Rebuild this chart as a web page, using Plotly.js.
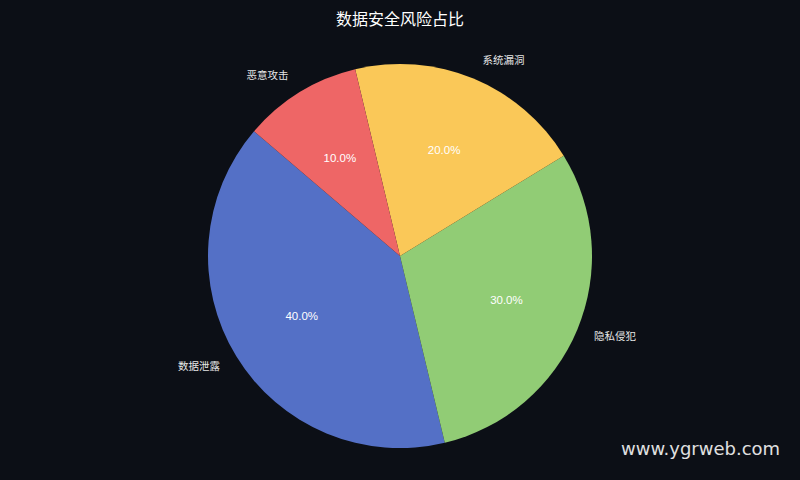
<!DOCTYPE html>
<html>
<head>
<meta charset="utf-8">
<script src="https://cdn.plot.ly/plotly-3.0.1.min.js"></script>
<style>
  html, body { margin: 0; padding: 0; background: #0c0f16; }
  #myDiv { width: 800px; height: 480px; }
</style>
</head>
<body>
<div id="myDiv"></div>
<script>
// Risk categories and their share (%)
var riskLabels = ['数据泄露', '隐私侵犯', '系统漏洞', '恶意攻击'];
var riskValues = [40, 30, 20, 10];
var sliceColors = ['#5470c6', '#91cc75', '#fac858', '#ee6666'];

var cjkFont = '"Noto Sans CJK SC", "DejaVu Sans", sans-serif';
var startRotation = -193.5;
var clear = riskValues.map(function () { return 'rgba(0,0,0,0)'; });

// Plotly puts horizontal inside text at r/(1+sin(halfAngle)); pull each slice
// of the transparent percent pie so every label ends up at the same radius
var total = riskValues.reduce(function (a, b) { return a + b; }, 0);
var insideFrac = riskValues.map(function (v) {
  var half = Math.min(Math.PI * v / total, Math.PI / 2);
  return 1 / (1 + Math.sin(half));
});
var maxFrac = Math.max.apply(null, insideFrac);
var percentPull = insideFrac.map(function (f) { return maxFrac - f; });
var maxPull = Math.max.apply(null, percentPull);

// geometry in pixels: pie centre (400,256), radius 192, plot area 800x432 from y=40
var pieR = 192, labelR = 0.6 * pieR;
var percentHalf = labelR / maxFrac * (1 + maxPull);
function domainFor(half) {
  return { x: [(400 - half) / 800, (400 + half) / 800], y: [(216 - half) / 432, (216 + half) / 432] };
}

// coloured slices, no text
var sliceTrace = {
  type: 'pie',
  labels: riskLabels,
  values: riskValues,
  sort: false,
  direction: 'counterclockwise',
  rotation: startRotation,
  domain: domainFor(pieR),
  marker: { colors: sliceColors, line: { width: 0 } },
  textinfo: 'none',
  showlegend: false,
  hoverinfo: 'label+percent'
};

// transparent pie carrying the percentages
var percentTrace = {
  type: 'pie',
  labels: riskLabels,
  values: riskValues,
  sort: false,
  direction: 'counterclockwise',
  rotation: startRotation,
  pull: percentPull,
  domain: domainFor(percentHalf),
  marker: { colors: clear, line: { width: 0 } },
  textinfo: 'percent',
  texttemplate: '%{percent:.1%}',
  textposition: 'inside',
  insidetextorientation: 'horizontal',
  insidetextfont: { color: '#ffffff', size: 11.5, family: '"Liberation Sans", sans-serif' },
  showlegend: false,
  hoverinfo: 'skip'
};

// large transparent pie carrying the category labels
var labelTrace = {
  type: 'pie',
  labels: riskLabels,
  values: riskValues,
  sort: false,
  direction: 'counterclockwise',
  rotation: startRotation,
  domain: domainFor(206),
  marker: { colors: clear, line: { width: 0 } },
  textinfo: 'label',
  textposition: 'outside',
  outsidetextfont: { color: '#e6e6e6', size: 10.5, family: cjkFont },
  showlegend: false,
  hoverinfo: 'skip'
};

var layout = {
  width: 800,
  height: 480,
  paper_bgcolor: '#0c0f16',
  plot_bgcolor: '#0c0f16',
  margin: { l: 0, r: 0, t: 40, b: 8 },
  title: {
    text: '数据安全风险占比',
    font: { family: cjkFont, size: 16, color: '#ffffff' },
    x: 0.5,
    xanchor: 'center',
    y: 0.96,
    yanchor: 'middle'
  },
  annotations: [{
    text: 'www.ygrweb.com',
    xref: 'paper', yref: 'paper',
    x: 1, y: 0,
    xanchor: 'right', yanchor: 'middle',
    xshift: -18, yshift: 24,
    showarrow: false,
    font: { family: 'DejaVu Sans, sans-serif', size: 18, color: '#e0e0e0' }
  }]
};

Plotly.newPlot('myDiv', [sliceTrace, percentTrace, labelTrace], layout, { displayModeBar: false });
</script>
</body>
</html>
